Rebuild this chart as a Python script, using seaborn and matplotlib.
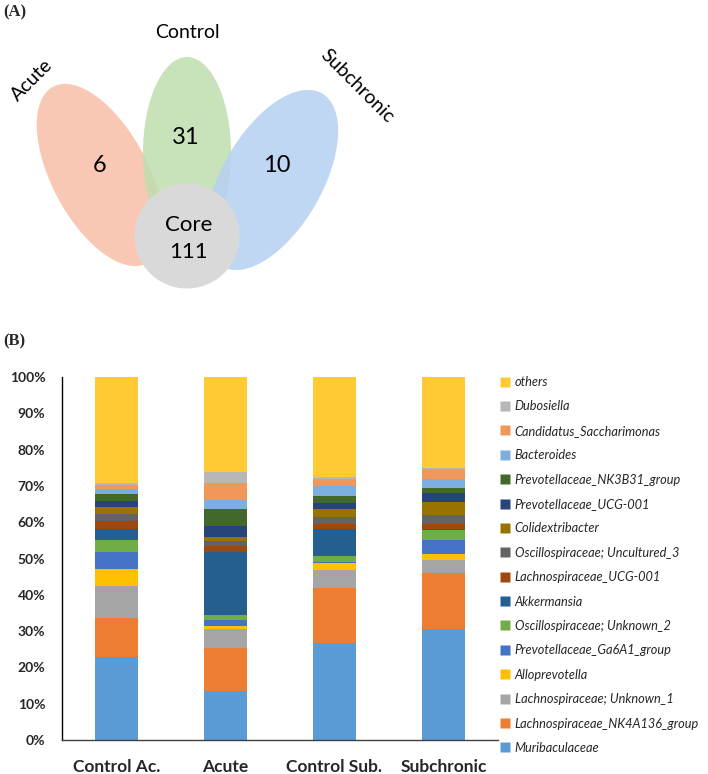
import matplotlib
matplotlib.use("Agg")
import matplotlib.pyplot as plt
import seaborn as sns
import numpy as np
from matplotlib.patches import Ellipse, Circle
from matplotlib.lines import Line2D

# ---------------- data ----------------
groups = ["Control Ac.", "Acute", "Control Sub.", "Subchronic"]
taxa = ["Muribaculaceae", "Lachnospiraceae_NK4A136_group", "Lachnospiraceae; Unknown_1",
        "Alloprevotella", "Prevotellaceae_Ga6A1_group", "Oscillospiraceae; Unknown_2",
        "Akkermansia", "Lachnospiraceae_UCG-001", "Oscillospiraceae; Uncultured_3",
        "Colidextribacter", "Prevotellaceae_UCG-001", "Prevotellaceae_NK3B31_group",
        "Bacteroides", "Candidatus_Saccharimonas", "Dubosiella", "others"]
muribaculaceae = [22.9, 13.6, 26.7, 30.5]
nk4a136 = [10.6, 11.8, 15.3, 15.4]
lachno_unknown1 = [8.9, 5.2, 4.7, 3.8]
alloprevotella = [4.7, 0.9, 2.0, 1.5]
ga6a1 = [4.7, 1.6, 0.4, 4.0]
oscillo_unknown2 = [3.3, 1.3, 1.7, 2.7]
akkermansia = [3.0, 17.4, 7.4, 0.1]
lachno_ucg001 = [2.2, 1.6, 1.4, 1.6]
oscillo_uncultured3 = [2.0, 1.3, 1.8, 2.3]
colidextribacter = [1.9, 1.1, 2.2, 3.7]
prevo_ucg001 = [1.6, 3.2, 1.6, 2.5]
nk3b31 = [2.0, 4.6, 2.1, 1.4]
bacteroides = [1.3, 2.5, 2.8, 2.4]
candidatus = [1.1, 4.6, 1.7, 2.8]
dubosiella = [0.6, 3.0, 0.7, 0.3]
others = [29.2, 26.3, 27.5, 25.0]
series = [muribaculaceae, nk4a136, lachno_unknown1, alloprevotella, ga6a1, oscillo_unknown2,
          akkermansia, lachno_ucg001, oscillo_uncultured3, colidextribacter, prevo_ucg001,
          nk3b31, bacteroides, candidatus, dubosiella, others]
colors = ["#5B9BD5", "#ED7D31", "#A5A5A5", "#FFC000", "#4472C4", "#70AD47",
          "#255E91", "#9E480E", "#636363", "#997300", "#264478", "#43682B",
          "#7CAFDD", "#F1975A", "#B7B7B7", "#FFCA33"]
yticks = [0, 10, 20, 30, 40, 50, 60, 70, 80, 90, 100]
ytick_labels = ["0%", "10%", "20%", "30%", "40%", "50%", "60%", "70%", "80%", "90%", "100%"]

venn_names = ["Acute", "Control", "Subchronic"]
venn_unique = [6, 31, 10]
venn_core = 111

# ---------------- figure ----------------
sns.set_theme(style="white")
plt.rcParams['font.family'] = ['Lato', 'DejaVu Sans']
W, H = 708, 774
fig = plt.figure(figsize=(W / 100, H / 100), dpi=100)

def fx(px):
    return px / W

def fy(py):
    return 1 - py / H

# ---- Panel A: Venn ----
axv = fig.add_axes([0, fy(290), fx(450), 290 / H])
axv.set_xlim(0, 450)
axv.set_ylim(290, 0)
axv.axis("off")
ell_specs = [((100, 175), 96, 200, -28, "#F8BFA8"),
             ((187, 153), 88, 192, 0, "#BFDDAE"),
             ((272, 180), 100, 200, 30, "#B4D0F2")]
for (c, w, h, a, col) in ell_specs:
    axv.add_patch(Ellipse(c, w, h, angle=a, facecolor=col, edgecolor="none", alpha=0.85))
axv.add_patch(Circle((187, 236), 52.5, facecolor="#D9D9D9", edgecolor="none"))
num_pos = [(100, 165), (186, 138), (277, 165)]
for (x, y), v in zip(num_pos, venn_unique):
    axv.text(x, y, str(v), fontsize=17, ha="center", va="center", color="black")
axv.text(189, 225, "Core", fontsize=16, ha="center", va="center", color="black")
axv.text(189, 252, str(venn_core), fontsize=16, ha="center", va="center", color="black")
name_pos = [((32, 80), 45), ((187, 33), 0), ((357, 86), -45)]
for ((x, y), rot), nm in zip(name_pos, venn_names):
    axv.text(x, y, nm, fontsize=14, ha="center", va="center", rotation=rot,
             rotation_mode="anchor", color="black")

fig.text(fx(3), fy(12), "(A)", fontsize=12, fontweight="bold", family="Liberation Serif",
         ha="left", va="center")
fig.text(fx(3), fy(341), "(B)", fontsize=12, fontweight="bold", family="Liberation Serif",
         ha="left", va="center")

# ---- Panel B: stacked bars ----
ax = fig.add_axes([fx(62), fy(740), fx(498) - fx(62), 363 / H])
cum = np.cumsum(np.array(series), axis=0)
for k in range(len(series) - 1, -1, -1):
    sns.barplot(x=groups, y=cum[k], color=colors[k], saturation=1, width=0.39,
                linewidth=0, ax=ax, zorder=2)
ax.set_ylim(0, 100)
ax.set_xlim(-0.5, 3.5)
ax.set_yticks(yticks)
ax.set_yticklabels(ytick_labels, fontsize=10, fontweight="bold")
ax.tick_params(axis="y", length=0, pad=12)
ax.tick_params(axis="x", length=0, pad=14, labelsize=12.5)
for lab in ax.get_xticklabels():
    lab.set_fontweight("bold")
ax.set_xlabel("")
ax.set_ylabel("")
for s in ["top", "right"]:
    ax.spines[s].set_visible(False)
ax.spines["left"].set_color("black")
ax.spines["left"].set_linewidth(1.0)
ax.spines["bottom"].set_color("#404040")
ax.spines["bottom"].set_linewidth(1.0)
ax.grid(False)

handles = [Line2D([0], [0], marker="s", linestyle="none", markersize=7,
                  markerfacecolor=colors[k], markeredgecolor="none")
           for k in range(len(series) - 1, -1, -1)]
labels = [taxa[k] for k in range(len(series) - 1, -1, -1)]
leg = fig.legend(handles, labels, loc="upper left", bbox_to_anchor=(fx(500), fy(376)),
                 frameon=False, handlelength=0.8, handletextpad=0.35, labelspacing=0.97,
                 borderaxespad=0, borderpad=0,
                 prop={"family": "Lato", "style": "italic", "size": 9.2})

fig.savefig("out.png", dpi=100)
